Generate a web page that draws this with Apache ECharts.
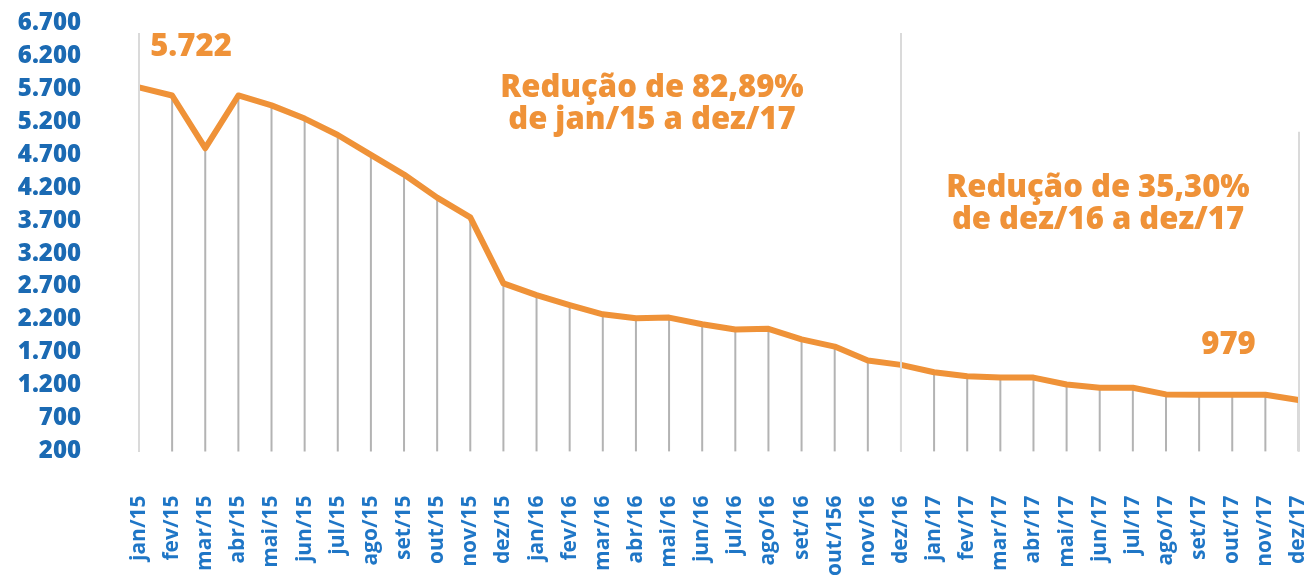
<!DOCTYPE html>
<html>
<head>
<meta charset="utf-8">
<script src="https://cdn.jsdelivr.net/npm/echarts@6/dist/echarts.min.js"></script>
<style>
  html, body { margin: 0; padding: 0; background: #ffffff; }
  #chart { width: 1309px; height: 579px; }
</style>
</head>
<body>
<div id="chart"></div>
<script>
// ---- Data ----
const categories = [
  'jan/15','fev/15','mar/15','abr/15','mai/15','jun/15','jul/15','ago/15','set/15','out/15','nov/15','dez/15',
  'jan/16','fev/16','mar/16','abr/16','mai/16','jun/16','jul/16','ago/16','set/16','out/156','nov/16','dez/16',
  'jan/17','fev/17','mar/17','abr/17','mai/17','jun/17','jul/17','ago/17','set/17','out/17','nov/17','dez/17'
];
const values = [
  5722, 5600, 4800, 5600, 5450, 5250, 5000, 4700, 4400, 4050, 3750, 2750,
  2570, 2420, 2280, 2220, 2230, 2130, 2050, 2060, 1900, 1790, 1580, 1513,
  1400, 1340, 1320, 1320, 1215, 1165, 1165, 1065, 1060, 1060, 1060, 979
];
const yTicks = { min: 200, max: 6700, step: 500 };
const annotations = [
  'Redução de 82,89%\nde jan/15 a dez/17',
  'Redução de 35,30%\nde dez/16 a dez/17'
];
// tall reference lines (category, top value)
const refLineCats = ['jan/15', 'dez/16', 'dez/17'];
const refLineTops = [6550, 6550, 5050];

// ---- Helpers ----
const fmt = v => String(v).replace(/\B(?=(\d{3})+(?!\d))/g, '.');
const ORANGE = '#ef9238';
const last = values.length - 1;

const lineData = values.map((v, i) => {
  if (i === 0) {
    return { value: v, label: { show: true, position: 'top', offset: [52, -19] } };
  }
  if (i === last) {
    return { value: v, label: { show: true, position: 'top', offset: [-70, -33] } };
  }
  return v;
});

const chart = echarts.init(document.getElementById('chart'), null, { renderer: 'canvas' });
chart.setOption({
  animation: false,
  backgroundColor: '#ffffff',
  grid: { left: 139, right: 10, top: 23, bottom: 126, containLabel: false },
  xAxis: {
    type: 'category',
    data: categories,
    boundaryGap: false,
    axisLine: { show: false },
    axisTick: { show: false },
    splitLine: { show: false },
    axisLabel: {
      rotate: 90,
      interval: 0,
      margin: 44,
      color: '#1f76c6',
      fontFamily: 'Open Sans',
      fontWeight: 'bold',
      fontSize: 21
    }
  },
  yAxis: {
    type: 'value',
    min: yTicks.min,
    max: yTicks.max,
    interval: yTicks.step,
    axisLine: { show: false },
    axisTick: { show: false },
    splitLine: { show: false },
    axisLabel: {
      margin: 58,
      color: '#1b6ab3',
      fontFamily: 'Open Sans',
      fontWeight: 800,
      fontSize: 24,
      formatter: v => fmt(v)
    }
  },
  series: [
    {
      type: 'bar',
      data: values,
      barWidth: 2,
      itemStyle: { color: '#b3b3b3' },
      silent: true,
      z: 1
    },
    {
      type: 'line',
      data: lineData,
      symbol: 'circle',
      symbolSize: 2,
      showSymbol: true,
      itemStyle: { color: ORANGE },
      lineStyle: { color: ORANGE, width: 6, join: 'round' },
      label: {
        show: false,
        color: ORANGE,
        fontFamily: 'Open Sans',
        fontWeight: 800,
        fontSize: 31,
        formatter: p => fmt(p.value)
      },
      markLine: {
        silent: true,
        symbol: 'none',
        label: { show: false },
        lineStyle: { color: '#dadada', width: 2, type: 'solid' },
        data: refLineCats.map((c, i) => [
          { xAxis: c, yAxis: refLineTops[i] },
          { xAxis: c, yAxis: yTicks.min }
        ])
      },
      z: 3
    }
  ],
  graphic: [
    {
      type: 'text',
      x: 652, y: 104,
      style: {
        text: annotations[0],
        align: 'center',
        verticalAlign: 'middle',
        font: '800 31px "Open Sans"',
        lineHeight: 32,
        fill: ORANGE
      }
    },
    {
      type: 'text',
      x: 1098, y: 204,
      style: {
        text: annotations[1],
        align: 'center',
        verticalAlign: 'middle',
        font: '800 31px "Open Sans"',
        lineHeight: 32,
        fill: ORANGE
      }
    }
  ]
});
</script>
</body>
</html>
